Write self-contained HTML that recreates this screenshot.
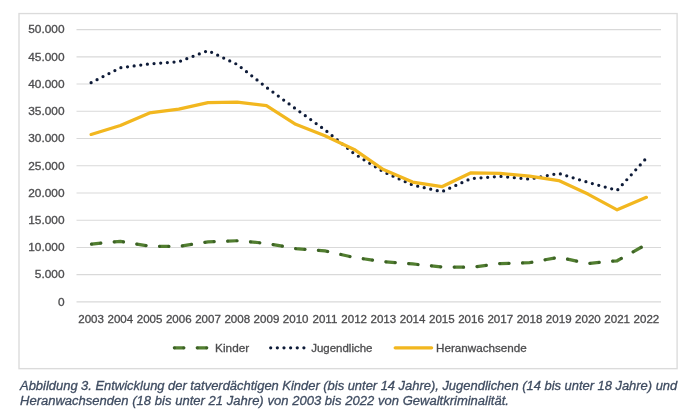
<!DOCTYPE html>
<html><head><meta charset="utf-8"><title>Abbildung 3</title>
<style>
html,body{margin:0;padding:0;background:#fff;}
body{width:690px;height:414px;position:relative;overflow:hidden;font-family:"Liberation Sans",sans-serif;}
.cap{position:absolute;left:19.8px;top:378.9px;width:658px;font-family:"Liberation Sans",sans-serif;font-style:italic;font-size:12.96px;line-height:14.8px;color:#3f4c61;-webkit-text-stroke:0.3px #3f4c61;white-space:nowrap;will-change:transform;}
.l1{word-spacing:-0.1px;}
.l2{word-spacing:0.12px;font-size:13.03px;}
</style></head><body>
<svg width="690" height="414" viewBox="0 0 690 414" style="position:absolute;left:0;top:0;will-change:transform">
<rect x="19.0" y="13.55" width="658.1" height="355.1" fill="#fff" stroke="#dbdbdb" stroke-width="1.35"/>
<line x1="76.5" x2="661.0" y1="29.60" y2="29.60" stroke="#d9d9d9" stroke-width="1.1"/>
<line x1="76.5" x2="661.0" y1="56.83" y2="56.83" stroke="#d9d9d9" stroke-width="1.1"/>
<line x1="76.5" x2="661.0" y1="84.06" y2="84.06" stroke="#d9d9d9" stroke-width="1.1"/>
<line x1="76.5" x2="661.0" y1="111.29" y2="111.29" stroke="#d9d9d9" stroke-width="1.1"/>
<line x1="76.5" x2="661.0" y1="138.52" y2="138.52" stroke="#d9d9d9" stroke-width="1.1"/>
<line x1="76.5" x2="661.0" y1="165.75" y2="165.75" stroke="#d9d9d9" stroke-width="1.1"/>
<line x1="76.5" x2="661.0" y1="192.98" y2="192.98" stroke="#d9d9d9" stroke-width="1.1"/>
<line x1="76.5" x2="661.0" y1="220.21" y2="220.21" stroke="#d9d9d9" stroke-width="1.1"/>
<line x1="76.5" x2="661.0" y1="247.44" y2="247.44" stroke="#d9d9d9" stroke-width="1.1"/>
<line x1="76.5" x2="661.0" y1="274.67" y2="274.67" stroke="#d9d9d9" stroke-width="1.1"/>
<line x1="76.5" x2="661.0" y1="301.90" y2="301.90" stroke="#d9d9d9" stroke-width="1.1"/>
<g font-family="Liberation Sans, sans-serif" font-size="11.4" fill="#4c4c4e" stroke="#4c4c4e" stroke-width="0.3">
<text transform="translate(64.6,33.40) scale(1.045,1)" text-anchor="end">50.000</text>
<text transform="translate(64.6,60.63) scale(1.045,1)" text-anchor="end">45.000</text>
<text transform="translate(64.6,87.86) scale(1.045,1)" text-anchor="end">40.000</text>
<text transform="translate(64.6,115.09) scale(1.045,1)" text-anchor="end">35.000</text>
<text transform="translate(64.6,142.32) scale(1.045,1)" text-anchor="end">30.000</text>
<text transform="translate(64.6,169.55) scale(1.045,1)" text-anchor="end">25.000</text>
<text transform="translate(64.6,196.78) scale(1.045,1)" text-anchor="end">20.000</text>
<text transform="translate(64.6,224.01) scale(1.045,1)" text-anchor="end">15.000</text>
<text transform="translate(64.6,251.24) scale(1.045,1)" text-anchor="end">10.000</text>
<text transform="translate(64.6,278.47) scale(1.045,1)" text-anchor="end">5.000</text>
<text transform="translate(64.6,305.70) scale(1.045,1)" text-anchor="end">0</text>
<text transform="translate(91.11,322.8) scale(1.014,1)" text-anchor="middle">2003</text>
<text transform="translate(120.34,322.8) scale(1.014,1)" text-anchor="middle">2004</text>
<text transform="translate(149.56,322.8) scale(1.014,1)" text-anchor="middle">2005</text>
<text transform="translate(178.79,322.8) scale(1.014,1)" text-anchor="middle">2006</text>
<text transform="translate(208.01,322.8) scale(1.014,1)" text-anchor="middle">2007</text>
<text transform="translate(237.24,322.8) scale(1.014,1)" text-anchor="middle">2008</text>
<text transform="translate(266.46,322.8) scale(1.014,1)" text-anchor="middle">2009</text>
<text transform="translate(295.69,322.8) scale(1.014,1)" text-anchor="middle">2010</text>
<text transform="translate(324.91,322.8) scale(1.014,1)" text-anchor="middle">2011</text>
<text transform="translate(354.14,322.8) scale(1.014,1)" text-anchor="middle">2012</text>
<text transform="translate(383.36,322.8) scale(1.014,1)" text-anchor="middle">2013</text>
<text transform="translate(412.59,322.8) scale(1.014,1)" text-anchor="middle">2014</text>
<text transform="translate(441.81,322.8) scale(1.014,1)" text-anchor="middle">2015</text>
<text transform="translate(471.04,322.8) scale(1.014,1)" text-anchor="middle">2016</text>
<text transform="translate(500.26,322.8) scale(1.014,1)" text-anchor="middle">2017</text>
<text transform="translate(529.49,322.8) scale(1.014,1)" text-anchor="middle">2018</text>
<text transform="translate(558.71,322.8) scale(1.014,1)" text-anchor="middle">2019</text>
<text transform="translate(587.94,322.8) scale(1.014,1)" text-anchor="middle">2020</text>
<text transform="translate(617.16,322.8) scale(1.014,1)" text-anchor="middle">2021</text>
<text transform="translate(646.39,322.8) scale(1.014,1)" text-anchor="middle">2022</text>
<text transform="translate(215.1,352.1) scale(1.035,1)">Kinder</text>
<text transform="translate(311.2,352.1) scale(1.008,1)">Jugendliche</text>
<text transform="translate(436.1,352.1) scale(1.023,1)">Heranwachsende</text>
</g>
<path d="M91.11,244.17 L120.34,241.34 L149.56,246.19 L178.79,246.46 L208.01,241.78 L237.24,240.74 L266.46,243.36 L295.69,248.53 L324.91,250.87 L354.14,257.46 L383.36,261.60 L412.59,263.97 L441.81,266.88 L471.04,267.37 L500.26,263.51 L529.49,262.69 L558.71,257.24 L587.94,263.51 L617.16,260.78 L646.39,244.39" fill="none" stroke="#527f30" stroke-width="3.24" stroke-linecap="round" stroke-linejoin="round" stroke-dasharray="9.3 13.55" stroke-dashoffset="-0.4"/>
<path d="M91.11,244.17 L120.34,241.34 L149.56,246.19 L178.79,246.46 L208.01,241.78 L237.24,240.74 L266.46,243.36 L295.69,248.53 L324.91,250.87 L354.14,257.46 L383.36,261.60 L412.59,263.97 L441.81,266.88 L471.04,267.37 L500.26,263.51 L529.49,262.69 L558.71,257.24 L587.94,263.51 L617.16,260.78 L646.39,244.39" fill="none" stroke="#24401a" stroke-opacity="0.45" stroke-width="3.24" stroke-linecap="round" stroke-dasharray="0 9.3 0 13.55" stroke-dashoffset="-0.4"/>
<path d="M91.11,82.70 L120.34,67.72 L149.56,63.91 L178.79,61.73 L208.01,50.57 L237.24,64.45 L266.46,87.33 L295.69,108.84 L324.91,129.81 L354.14,153.66 L383.36,171.74 L412.59,185.08 L441.81,191.73 L471.04,178.55 L500.26,176.37 L529.49,179.09 L558.71,173.37 L587.94,182.36 L617.16,190.37 L646.39,158.13" fill="none" stroke="#0e1b38" stroke-width="3.24" stroke-linecap="round" stroke-linejoin="round" stroke-dasharray="0 6.68"/>
<path d="M91.11,134.44 L120.34,125.45 L149.56,112.92 L178.79,109.11 L208.01,102.58 L237.24,102.03 L266.46,105.57 L295.69,124.36 L324.91,135.80 L354.14,149.41 L383.36,169.56 L412.59,182.09 L441.81,186.72 L471.04,172.83 L500.26,173.37 L529.49,176.10 L558.71,180.56 L587.94,194.07 L617.16,209.86 L646.39,197.34" fill="none" stroke="#f2b71f" stroke-width="3.24" stroke-linecap="round" stroke-linejoin="round"/>
<path d="M174.4,347.8 L206.7,347.8" fill="none" stroke="#527f30" stroke-width="3.24" stroke-linecap="round" stroke-dasharray="9.4 13.5"/>
<path d="M174.4,347.8 L206.7,347.8" fill="none" stroke="#24401a" stroke-opacity="0.45" stroke-width="3.24" stroke-linecap="round" stroke-dasharray="0 9.4 0 13.5"/>
<path d="M270.7,347.8 L304.1,347.8" fill="none" stroke="#0e1b38" stroke-width="3.24" stroke-linecap="round" stroke-dasharray="0 6.64"/>
<path d="M395.2,347.8 L431.6,347.8" fill="none" stroke="#f2b71f" stroke-width="3.24" stroke-linecap="round"/>
</svg>
<div class="cap"><span class="l1">Abbildung 3. Entwicklung der tatverdächtigen Kinder (bis unter 14 Jahre), Jugendlichen (14 bis unter 18 Jahre) und</span><br><span class="l2">Heranwachsenden (18 bis unter 21 Jahre) von 2003 bis 2022 von Gewaltkriminalität.</span></div>
</body></html>
